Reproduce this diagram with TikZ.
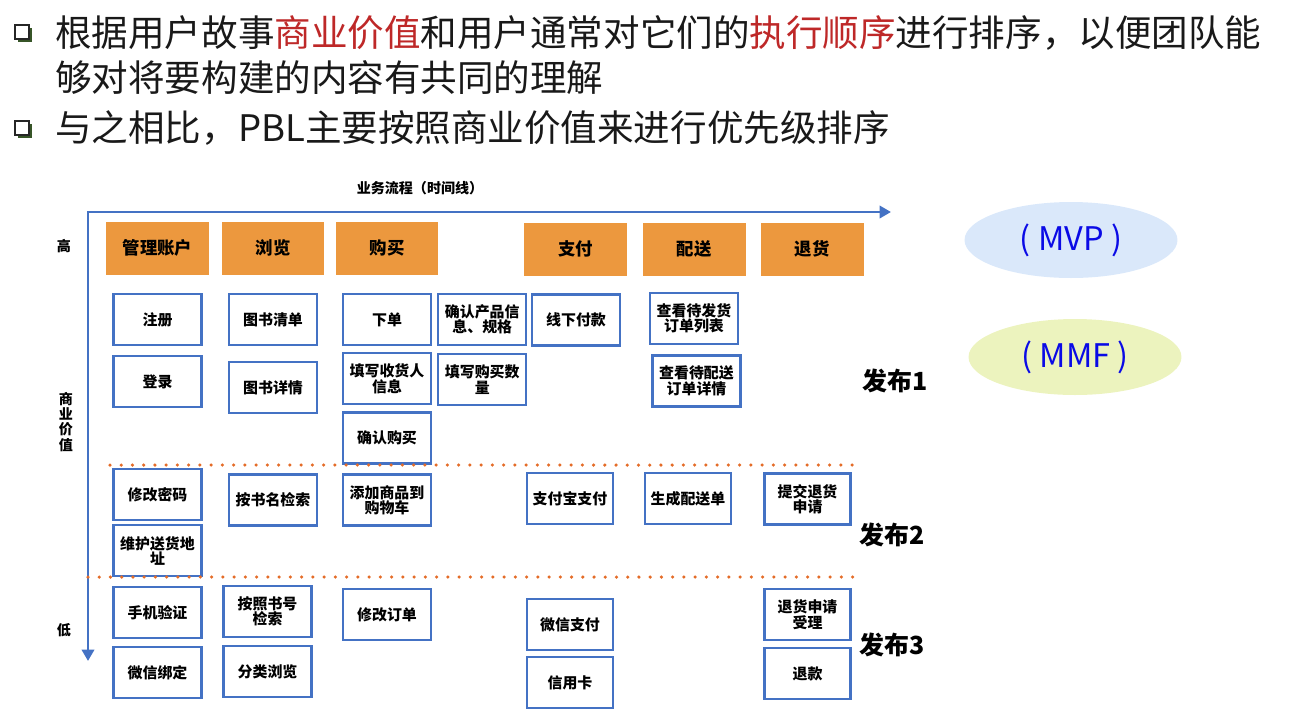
\documentclass[tikz,border=0pt]{standalone}
\usepackage{fontspec}
\setmainfont{Noto Sans CJK SC}
\usepackage{xcolor}
\usepackage{tikz}
\usetikzlibrary{arrows.meta,shapes.geometric,positioning,shadows}
\definecolor{axisblue}  {RGB}{68,114,196}
\definecolor{epicorange}{RGB}{236,152,62}
\definecolor{dotorange} {RGB}{228,108,40}
\definecolor{keyred}    {RGB}{190,40,40}
\definecolor{mvpblue}   {RGB}{218,232,250}
\definecolor{mmfgreen}  {RGB}{236,243,190}
\definecolor{tagblue}   {RGB}{10,10,230}
\definecolor{bulgreen}  {RGB}{55,85,40}
\tikzset{
  headline/.style={anchor=west, inner sep=0pt, text=black!90,
                   font=\fontsize{20.8}{24}\selectfont},
  bulsq/.style  ={draw=black!85, fill=white, line width=0.8pt,
                  minimum size=0.28cm, inner sep=0pt,
                  drop shadow={shadow xshift=0.06cm, shadow yshift=-0.06cm,
                               fill=bulgreen, opacity=1}},
  epicbox/.style={fill=epicorange, align=center, inner sep=1pt,
                  minimum width=2.06cm, minimum height=1.06cm,
                  font=\fontsize{9.9}{11}\selectfont\bfseries},
  story/.style  ={draw=axisblue, line width=1.3pt, fill=white,
                  align=center, inner sep=1pt,
                  minimum width=#1, minimum height=1.02cm,
                  font=\fontsize{8.5}{8.8}\selectfont\bfseries},
  story/.default=1.76cm,
  axislabel/.style={font=\fontsize{8}{8.6}\selectfont\bfseries,
                    inner sep=0pt, align=center},
  release/.style={anchor=west, inner sep=0pt,
                  font=\fontsize{14.2}{15}\selectfont\bfseries},
  tag/.style    ={ellipse, minimum width=4.26cm, minimum height=1.52cm,
                  text=tagblue, font=\fontsize{18.5}{20}\selectfont},
  axis/.style   ={draw=axisblue, line width=1.6pt,
                  {Triangle[length=6.5pt,width=7pt]}-{Triangle[length=6.5pt,width=7pt]}},
  relline/.style={draw=dotorange, line width=2pt, line cap=round,
                  dash pattern=on 0pt off 6.4pt},
}
\begin{document}
\begin{tikzpicture}[x=0.02cm,y=-0.02cm]
  \useasboundingbox (0,0) rectangle (1294,718);
  %% heading
  \node[bulsq] (b1) at (22,32) {};
  \node[headline] (l1) at (55,33) {根据用户故事\textcolor{keyred}{商业价值}和用户通常对它们的\textcolor{keyred}{执行顺序}进行排序，以便团队能};
  \node[headline] (l2) at (55,78) {够对将要构建的内容有共同的理解};
  \node[bulsq] (b2) at (22,128) {};
  \node[headline] (l3) at (55,128) {与之相比，PBL主要按照商业价值来进行优先级排序};

  %% axes
  \coordinate (orig) at (88,212);
  \coordinate (tend) at (891,212);
  \coordinate (vend) at (88,661);
  \draw[axis] (tend) -- (orig) -- (vend);
  \node[axislabel] (flow) at (420,188) {业务流程（时间线）};
  \node[axislabel] (hi) at (64,246) {高};
  \node[axislabel] (val) at (66,422) {商\\业\\价\\值};
  \node[axislabel] (lo) at (64,630) {低};

  %% activities
  \node[epicbox] (acct)   at (157.5,248) {管理账户};
  \node[epicbox] (browse) at (273,248)   {浏览};
  \node[epicbox] (buy)    at (387,248)   {购买};
  \node[epicbox] (pay)    at (575.5,249) {支付};
  \node[epicbox] (ship)   at (694,249)   {配送};
  \node[epicbox] (ret)    at (812,249)   {退货};

  %% release 1
  \node[story] (reg)    at (157.5,319.5) {注册};
  \node[story] (login)  at (157.5,381.5) {登录};
  \node[story] (blist)  at (273,319.5)   {图书清单};
  \node[story] (bdet)   at (273,387.5)   {图书详情};
  \node[story] (order)  at (387,319.5)   {下单};
  \node[story, below=0.12cm of order] (recv) {填写收货人\\信息};
  \node[story, below=0.12cm of recv]  (conf) {确认购买};
  \node[story, right=0.1cm of order]  (spec) {确认产品信\\息、规格};
  \node[story, below=0.14cm of spec]  (qty)  {填写购买数\\量};
  \node[story] (offl)   at (576,320)     {线下付款};
  \node[story] (tosend) at (694,318.5)   {查看待发货\\订单列表};
  \node[story] (toship) at (696.5,381)   {查看待配送\\订单详情};
  \node[release] (rel1) at (862,381) {发布1};

  \coordinate (r1w) at (110,465);
  \coordinate (r1e) at (863,465);
  \draw[relline] (r1w) -- (r1e);

  %% release 2
  \node[story] (pwd)    at (157.5,494.5) {修改密码};
  \node[story, below=0.06cm of pwd] (addr) {维护送货地\\址};
  \node[story] (byname) at (273,500)     {按书名检索};
  \node[story] (cart)   at (387,500)     {添加商品到\\购物车};
  \node[story=1.72cm] (alipay) at (570,498.5) {支付宝支付};
  \node[story=1.72cm] (mkship) at (688,498.5) {生成配送单};
  \node[story=1.72cm] (retreq) at (807.5,499) {提交退货\\申请};
  \node[release] (rel2) at (859,535) {发布2};

  \coordinate (r2w) at (88,577);
  \coordinate (r2e) at (863,577);
  \draw[relline] (r2w) -- (r2e);

  %% release 3
  \node[story] (phone)  at (157.5,612.5) {手机验证};
  \node[story, below=0.14cm of phone] (wxbind) {微信绑定};
  \node[story] (byisbn) at (267.5,611.5) {按照书号\\检索};
  \node[story, below=0.14cm of byisbn] (cat) {分类浏览};
  \node[story] (modord) at (387,614.5)   {修改订单};
  \node[story=1.72cm] (wxpay) at (570,624.5) {微信支付};
  \node[story=1.72cm, below=0.1cm of wxpay] (credit) {信用卡};
  \node[story=1.72cm] (retacc) at (807.5,614.5) {退货申请\\受理};
  \node[story=1.72cm, below=0.12cm of retacc] (refund) {退款};
  \node[release] (rel3) at (859,645) {发布3};

  %% MVP / MMF
  \node[tag, fill=mvpblue]  (mvp) at (1071,240) {( MVP )};
  \node[tag, fill=mmfgreen] (mmf) at (1075,357) {( MMF )};
\end{tikzpicture}
\end{document}
